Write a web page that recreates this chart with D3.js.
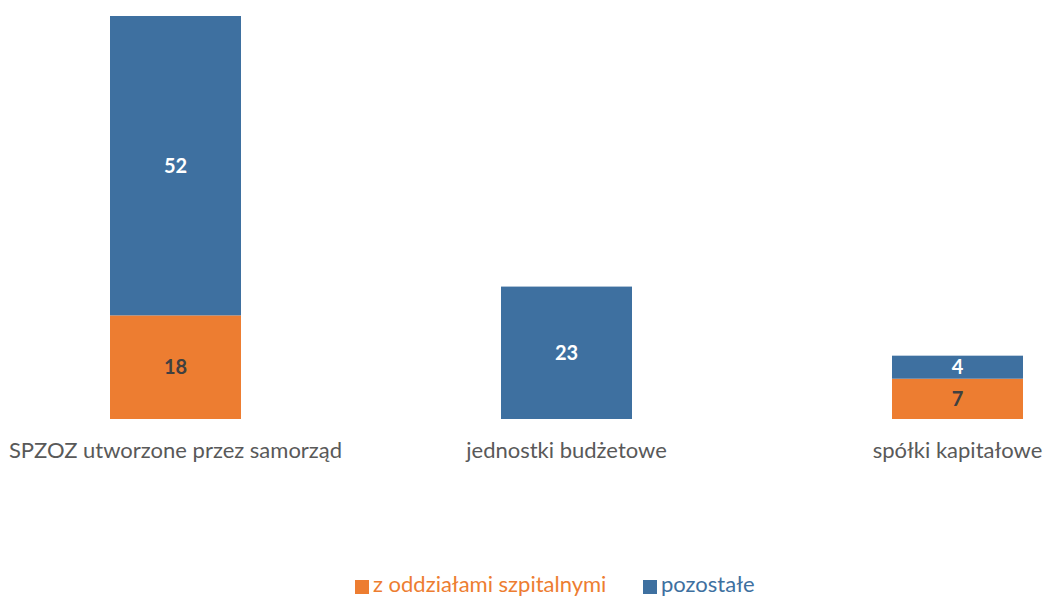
<!DOCTYPE html>
<html><head><meta charset="utf-8">
<script src="https://cdn.jsdelivr.net/npm/d3@7"></script>
<style>body{margin:0;background:#fff}svg{display:block;font-family:Lato,"Open Sans",sans-serif}</style>
</head><body><svg id="c" width="1045" height="597"></svg>
<script>
const categories = ["SPZOZ utworzone przez samorząd", "jednostki budżetowe", "spółki kapitałowe"];
const seriesNames = ["z oddziałami szpitalnymi", "pozostałe"];
const hospitalValues = [18, 0, 7];
const otherValues = [52, 23, 4];
const colors = ["#ED7D31", "#3E70A0"];
const labelColors = ["#404040", "#FFFFFF"];

const svg = d3.select("#c");
const rows = categories.map((c, i) => ({cat: c, s0: hospitalValues[i], s1: otherValues[i]}));
const stack = d3.stack().keys(["s0", "s1"]);
const layers = stack(rows);

const x = d3.scaleBand().domain(categories).range([-20, 1153]).paddingInner(0.665).paddingOuter(0.3325);
const y = d3.scaleLinear().domain([0, 70]).range([419, 16]);

const g = svg.append("g");
layers.forEach((layer, li) => {
  const lg = g.append("g");
  lg.selectAll("rect").data(layer.filter(d => d[1] - d[0] > 0)).join("rect")
    .attr("x", d => x(d.data.cat)).attr("width", x.bandwidth())
    .attr("y", d => y(d[1])).attr("height", d => y(d[0]) - y(d[1]))
    .attr("fill", colors[li]);
  lg.selectAll("text").data(layer.filter(d => d[1] - d[0] > 0)).join("text")
    .attr("x", d => x(d.data.cat) + x.bandwidth() / 2)
    .attr("y", d => (y(d[0]) + y(d[1])) / 2)
    .attr("dy", "0.36em").attr("text-anchor", "middle")
    .attr("font-size", 20).attr("font-weight", "bold")
    .attr("fill", labelColors[li])
    .text(d => d[1] - d[0]);
});

const xAxis = d3.axisBottom(x).tickSize(0).tickPadding(0);
const ax = svg.append("g").attr("transform", "translate(0,419)").call(xAxis);
ax.select(".domain").remove();
ax.selectAll("text").attr("font-size", 22).attr("fill", "#595959")
  .attr("font-family", "Lato,sans-serif").attr("y", 39).attr("dy", 0);

const legend = svg.append("g");
const legX = [355, 643];
seriesNames.forEach((n, i) => {
  legend.append("rect").attr("x", legX[i]).attr("y", 580).attr("width", 14).attr("height", 14).attr("fill", colors[i]);
  legend.append("text").attr("x", legX[i] + 18).attr("y", 592).attr("font-size", 22)
    .attr("fill", colors[i]).text(n);
});
</script></body></html>
